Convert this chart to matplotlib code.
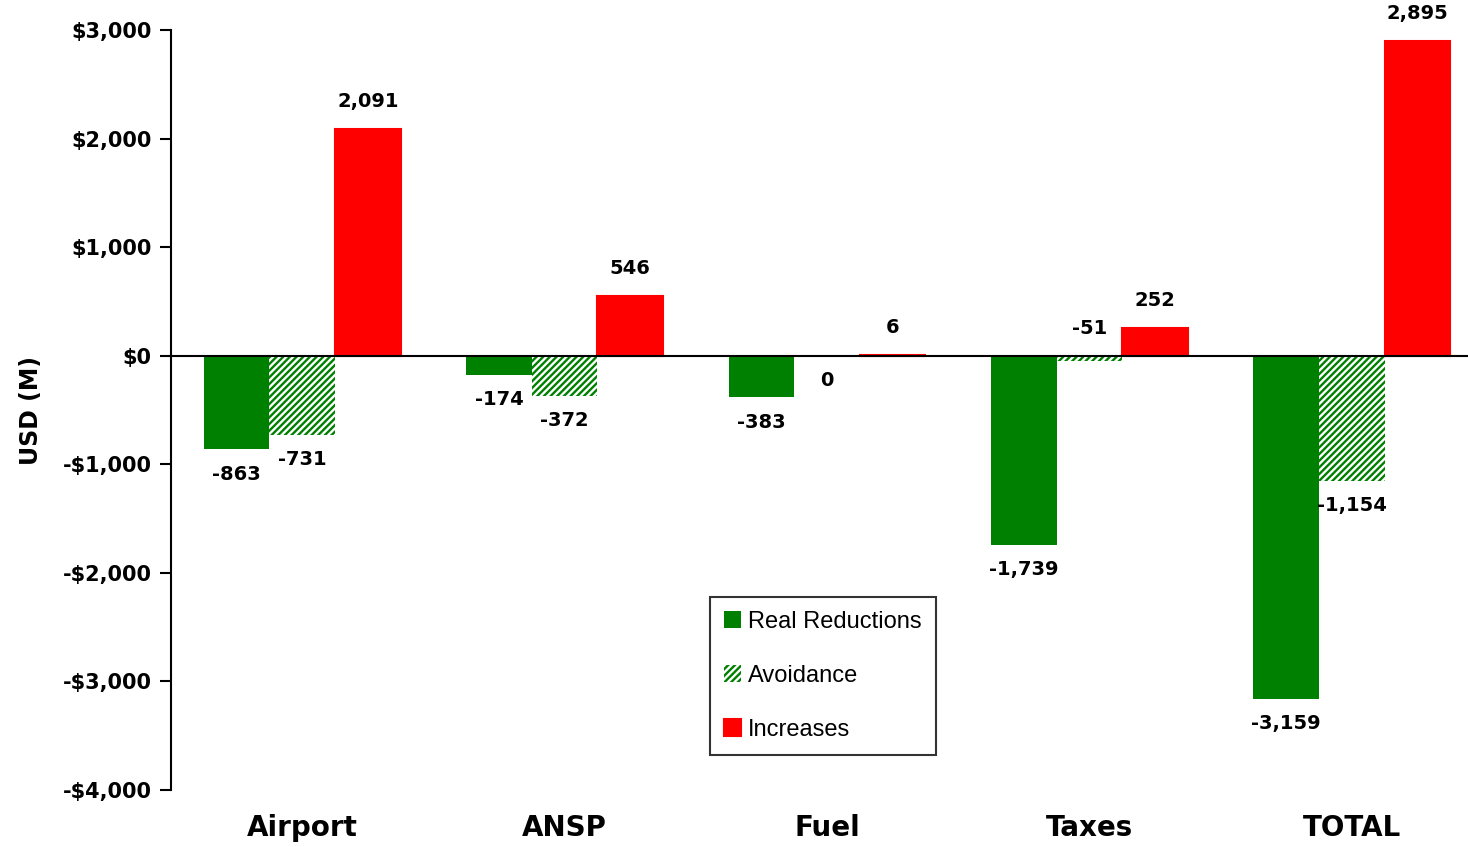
import matplotlib
matplotlib.use("Agg")
import matplotlib.pyplot as plt
import numpy as np

categories = ["Airport", "ANSP", "Fuel", "Taxes", "TOTAL"]
real_reductions = [-863, -174, -383, -1739, -3159]
avoidance = [-731, -372, 0, -51, -1154]
increases = [2091, 546, 6, 252, 2895]
yticks = [3000, 2000, 1000, 0, -1000, -2000, -3000, -4000]

GREEN = "#008000"
RED = "#FF0000"

plt.rcParams["hatch.linewidth"] = 1.7

fig = plt.figure(figsize=(14.68, 8.47), dpi=100)
ax = fig.add_axes([171/1468, 57/847, (1483-171)/1468, 760/847])

x = np.arange(len(categories))
w = 0.25
b1 = ax.bar(x - w, real_reductions, w, color=GREEN, label="Real Reductions")
b2 = ax.bar(x, avoidance, w, color="white", edgecolor=GREEN, hatch="/////",
            linewidth=0, label="Avoidance")
b3 = ax.bar(x + w, increases, w, color=RED, edgecolor=RED, linewidth=1.5,
            label="Increases")

ax.set_xlim(-0.5, len(categories) - 0.5)
ax.set_ylim(-4000, 3000)
ax.axhline(0, color="black", lw=1.5, zorder=5)

ax.set_yticks(yticks)
ax.set_yticklabels([("-$" if v < 0 else "$") + f"{abs(v):,}" for v in yticks],
                   fontsize=15, fontweight="bold")
ax.tick_params(axis="y", direction="out", length=8, width=1.5, pad=6)
ax.set_xticks(x)
ax.set_xticklabels(categories, fontsize=20, fontweight="bold")
ax.tick_params(axis="x", length=0, pad=17)
for s in ["top", "right", "bottom"]:
    ax.spines[s].set_visible(False)
ax.spines["left"].set_linewidth(1.5)
ax.set_ylabel("USD (M)", fontsize=17, fontweight="bold", labelpad=14)

def fmt(v):
    return f"{v:,}"

above_override = {(1, 3)}  # (series index, category index) negative labels placed above

for si, (bars, vals) in enumerate([(b1, real_reductions), (b2, avoidance), (b3, increases)]):
    for ci, (bar, v) in enumerate(zip(bars, vals)):
        cx = bar.get_x() + bar.get_width() / 2
        if v > 0 or (si, ci) in above_override:
            y0 = max(v, 0)
            ax.annotate(fmt(v), (cx, y0), xytext=(0, 13), textcoords="offset points",
                        ha="center", va="bottom", fontsize=14, fontweight="bold")
        else:
            ax.annotate(fmt(v), (cx, v), xytext=(0, -11), textcoords="offset points",
                        ha="center", va="top", fontsize=14, fontweight="bold")

leg = fig.legend(handles=[b1, b2, b3], loc="upper left",
                 bbox_to_anchor=(710/1468, 1 - 597/847),
                 prop={"family": "Liberation Sans", "size": 17},
                 frameon=True, fancybox=False, edgecolor="black",
                 handlelength=0.72, handleheight=0.72, handletextpad=0.3,
                 labelspacing=1.35, borderpad=0.6, borderaxespad=0)
leg.get_frame().set_linewidth(1.5)

fig.savefig("out.png", dpi=100)
